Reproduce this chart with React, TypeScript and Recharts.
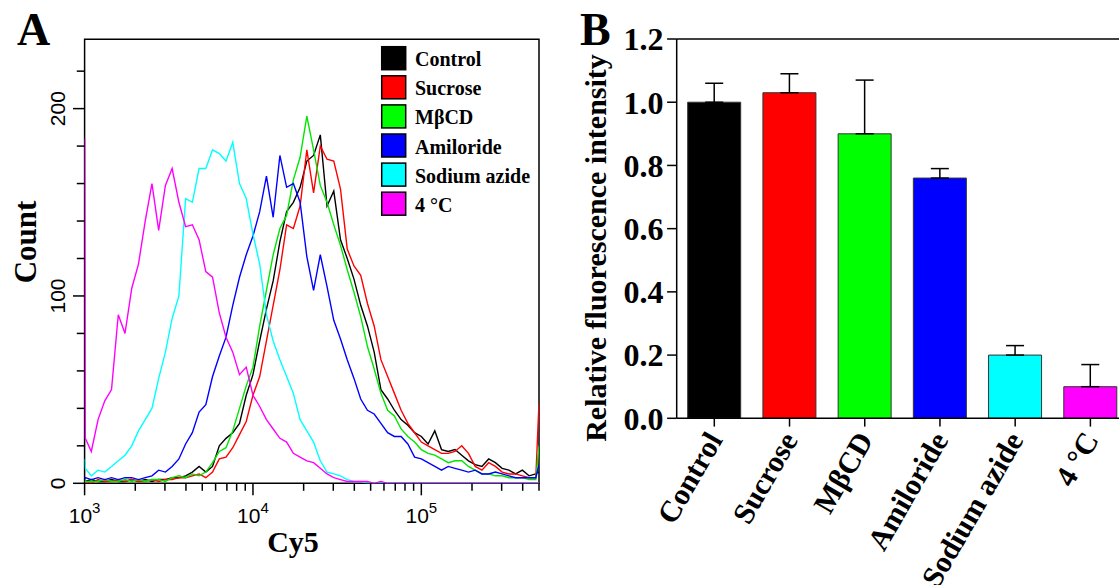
import React from 'react';
import {
  LineChart, Line, XAxis, YAxis, ReferenceArea,
  BarChart, Bar, Cell, ErrorBar, ReferenceLine,
} from 'recharts';

// Panel A: Cy5 histogram channels (log axis) and counts
const cy5 = [
  1000, 1010, 1096, 1202, 1318, 1445, 1585, 1738, 1905, 2089, 2291, 2512, 2754, 3020, 3311, 3631,
  3981, 4365, 4786, 5248, 5754, 6310, 6918, 7586, 8318, 9120, 10000, 10965, 12023, 13183, 14454,
  15849, 17378, 19055, 20893, 22909, 25119, 27542, 30200, 33113, 36308, 39811, 43652, 47863, 52481,
  57544, 63096, 69183, 75858, 83176, 91201, 100000, 109648, 120226, 131826, 144544, 158489, 173780,
  190546, 208930, 229087, 251189, 275423, 301995, 331131, 363078, 398107, 436516, 478630, 500000,
];

const control = [
  1, 1, 2, 1, 1, 2, 1, 1, 2, 1, 2, 1, 2, 2, 3, 3, 4, 6, 9, 6, 9, 20, 24, 27, 32, 47, 58, 76, 93, 108,
  129, 145, 150, 158, 172, 175, 186, 148, 156, 130, 120, 109, 95, 84, 70, 50, 45, 39, 34, 31, 27, 25,
  21, 28, 18, 17, 18, 15, 12, 10, 9, 13, 11, 8, 7, 5, 7, 4, 5, 6,
];
const sucrose = [
  1, 1, 0, 2, 1, 1, 2, 1, 2, 1, 1, 2, 1, 2, 2, 3, 3, 4, 5, 3, 6, 13, 14, 19, 26, 33, 47, 57, 76, 95,
  114, 138, 136, 148, 178, 155, 180, 173, 172, 157, 125, 116, 111, 96, 84, 66, 57, 48, 39, 32, 27, 22,
  20, 18, 16, 16, 17, 20, 16, 9, 7, 11, 9, 6, 5, 5, 4, 3, 3, 43,
];
const mbcd = [
  1, 1, 1, 1, 2, 1, 1, 2, 1, 2, 1, 2, 2, 1, 3, 4, 3, 5, 4, 6, 11, 17, 19, 28, 40, 52, 62, 84, 103, 122,
  136, 143, 162, 174, 196, 178, 159, 150, 138, 127, 114, 102, 89, 73, 61, 48, 39, 36, 29, 25, 22, 18,
  16, 15, 13, 11, 12, 12, 9, 7, 5, 5, 4, 4, 3, 3, 3, 2, 2, 20,
];
const amiloride = [
  2, 3, 2, 3, 2, 3, 2, 3, 3, 2, 3, 4, 7, 6, 9, 13, 21, 27, 38, 42, 57, 68, 78, 95, 110, 122, 132, 145,
  164, 142, 175, 158, 160, 150, 121, 103, 122, 105, 87, 77, 66, 56, 45, 39, 37, 32, 27, 25, 25, 21,
  14, 13, 11, 9, 7, 9, 8, 7, 6, 7, 5, 5, 6, 5, 4, 3, 3, 3, 3, 10,
];
const azide = [
  13, 8, 4, 7, 6, 9, 12, 15, 20, 28, 34, 40, 56, 70, 88, 100, 152, 150, 168, 168, 178, 176, 172, 182,
  160, 152, 133, 117, 90, 76, 66, 57, 48, 34, 28, 22, 12, 6, 5, 4, 2, 1, 1, 0, 0, 0, 0, 0, 0, 0, 0, 0,
  0, 0, 0, 0, 0, 0, 0, 0, 0, 0, 0, 0, 0, 0, 0, 0, 0, 0,
];
const cold4 = [
  184, 24, 17, 34, 44, 50, 90, 80, 104, 117, 140, 160, 135, 159, 168, 150, 137, 138, 130, 113, 110, 91,
  78, 70, 58, 62, 47, 41, 34, 29, 24, 22, 16, 14, 12, 11, 8, 5, 3, 2, 1, 1, 1, 1, 0, 1, 0, 0, 0, 0, 0,
  0, 0, 0, 0, 0, 0, 0, 0, 0, 0, 0, 0, 0, 0, 0, 0, 0, 0, 0,
];

const seriesNames = ['Control', 'Sucrose', 'MβCD', 'Amiloride', 'Sodium azide', '4 °C'];
const seriesKeys = ['control', 'sucrose', 'mbcd', 'amiloride', 'azide', 'cold4'];
const seriesColors = ['#000000', '#ff0000', '#00e600', '#0000ff', '#00ffff', '#ff00ff'];
const barColors = ['#000000', '#ff0000', '#00ff00', '#0000ff', '#00ffff', '#ff00ff'];

const xTicksA = [
  1000, 2000, 3000, 4000, 5000, 6000, 7000, 8000, 9000,
  10000, 20000, 30000, 40000, 50000, 60000, 70000, 80000, 90000,
  100000, 200000, 300000, 400000, 500000,
];
const xMajorA: Record<number, string> = { 1000: '3', 10000: '4', 100000: '5' };
const yTicksA = [0, 20, 40, 60, 80, 100, 120, 140, 160, 180, 200, 220];

// Panel B: relative fluorescence intensity (mean, +SD)
const barValues = [1.0, 1.03, 0.9, 0.76, 0.2, 0.1];
const barErrors = [0.06, 0.06, 0.17, 0.03, 0.03, 0.07];
const yTicksB = [0, 0.2, 0.4, 0.6, 0.8, 1.0, 1.2];

const histData = cy5.map((x, i) => ({
  x,
  control: control[i],
  sucrose: sucrose[i],
  mbcd: mbcd[i],
  amiloride: amiloride[i],
  azide: azide[i],
  cold4: cold4[i],
}));

const barData = seriesNames.map((name, i) => ({
  name,
  value: barValues[i],
  err: [0, barErrors[i]],
}));

const serif = '"Liberation Serif", "Times New Roman", serif';
const sans = '"Liberation Sans", Arial, sans-serif';

const HistXTick = (props: any) => {
  const { x, y, payload } = props;
  const exp = xMajorA[payload.value];
  return (
    <g>
      <line x1={x} x2={x} y1={y} y2={y + (exp ? 12 : 7.5)} stroke="#000" strokeWidth={1.5} />
      {exp && (
        <text x={x} y={y + 39.4} textAnchor="middle" fontFamily={sans} fontSize={21} fill="#000">
          10<tspan fontSize={15} dy={-10}>{exp}</tspan>
        </text>
      )}
    </g>
  );
};

const HistYTick = (props: any) => {
  const { x, y, payload } = props;
  const major = payload.value % 100 === 0;
  const tx = x - 20;
  return (
    <g>
      <line x1={x - (major ? 11.6 : 7.8)} x2={x} y1={y} y2={y} stroke="#000" strokeWidth={1.5} />
      {major && (
        <text x={tx} y={y} transform={`rotate(-90, ${tx}, ${y})`} textAnchor="middle"
          fontFamily={sans} fontSize={21} fill="#000">
          {payload.value}
        </text>
      )}
    </g>
  );
};

const BarXTick = (props: any) => {
  const { x, y, payload } = props;
  return (
    <text x={x} y={y} transform={`rotate(-60, ${x}, ${y})`} textAnchor="end" dominantBaseline="central"
      fontFamily={serif} fontWeight="bold" fontSize={30} fill="#000">
      {payload.value}
    </text>
  );
};

export default function App() {
  return (
    <div style={{ position: 'absolute', left: 0, top: 0, width: 1119, height: 585, overflow: 'hidden', background: '#fff' }}>
      <div style={{ position: 'absolute', left: 0, top: 0 }}>
        <LineChart width={560} height={585} data={histData}
          margin={{ top: 39.3, right: 21, bottom: 61.7, left: 44.6 }}>
          <XAxis dataKey="x" type="number" scale="log" domain={[1000, 500000]} allowDataOverflow
            ticks={xTicksA} interval={0} tick={<HistXTick />} tickLine={false} axisLine={false}
            tickSize={0} tickMargin={0} height={40} />
          <YAxis type="number" domain={[0, 237]} allowDataOverflow ticks={yTicksA} interval={0}
            tick={<HistYTick />} tickLine={false} axisLine={false} tickSize={0} tickMargin={0} width={40} />
          {seriesKeys.map((k, i) => (
            <Line key={k} dataKey={k} type="linear" stroke={seriesColors[i]} strokeWidth={1.4}
              dot={false} isAnimationActive={false} />
          ))}
          <ReferenceArea x1={1000} x2={500000} y1={0} y2={237} fill="none" fillOpacity={0}
            stroke="#000" strokeWidth={1.5} />
        </LineChart>
      </div>

      <div style={{ position: 'absolute', left: 560, top: 0 }}>
        <BarChart width={600} height={585} data={barData}
          margin={{ top: 39, right: 32, bottom: 66.7, left: 56.7 }}>
          <XAxis dataKey="name" type="category" interval={0} tick={<BarXTick />} tickSize={8.3}
            tickMargin={8} height={100} axisLine={{ stroke: '#000', strokeWidth: 1.5 }}
            tickLine={{ stroke: '#000', strokeWidth: 1.5 }} />
          <YAxis type="number" domain={[0, 1.2]} ticks={yTicksB} interval={0} width={60}
            tickFormatter={(v: number) => v.toFixed(1)} tickSize={9.6} tickMargin={3.5}
            tick={{ fontFamily: serif, fontWeight: 'bold', fontSize: 32, fill: '#000' }}
            axisLine={{ stroke: '#000', strokeWidth: 1.5 }} tickLine={{ stroke: '#000', strokeWidth: 1.5 }} />
          <ReferenceLine y={1.2} stroke="#000" strokeWidth={1.5} />
          <Bar dataKey="value" barSize={53} stroke="#333" strokeWidth={1} isAnimationActive={false}>
            {barData.map((d, i) => (
              <Cell key={d.name} fill={barColors[i]} />
            ))}
            <ErrorBar dataKey="err" width={9} stroke="#000" strokeWidth={1.5} direction="y" />
          </Bar>
        </BarChart>
      </div>

      <svg width={1119} height={585} style={{ position: 'absolute', left: 0, top: 0, pointerEvents: 'none' }}>
        <text x={17} y={45} fontFamily={serif} fontWeight="bold" fontSize={46} fill="#000">A</text>
        <text x={580} y={45} fontFamily={serif} fontWeight="bold" fontSize={46} fill="#000">B</text>
        <text x={36} y={242} transform="rotate(-90, 36, 242)" textAnchor="middle"
          fontFamily={serif} fontWeight="bold" fontSize={31} fill="#000">Count</text>
        <text x={293} y={552} textAnchor="middle" fontFamily={serif} fontWeight="bold" fontSize={30} fill="#000">Cy5</text>
        <text x={606} y={248} transform="rotate(-90, 606, 248)" textAnchor="middle"
          fontFamily={serif} fontWeight="bold" fontSize={30} fill="#000">Relative fluorescence intensity</text>
        {seriesNames.map((name, i) => {
          const top = 46.7 + i * 29.1;
          return (
            <g key={name}>
              <rect x={381.7} y={top} width={24} height={23} fill={barColors[i]} stroke="#000" strokeWidth={1.5} />
              <text x={415} y={top + 19.5} fontFamily={serif} fontWeight="bold" fontSize={20} fill="#000">{name}</text>
            </g>
          );
        })}
      </svg>
    </div>
  );
}
